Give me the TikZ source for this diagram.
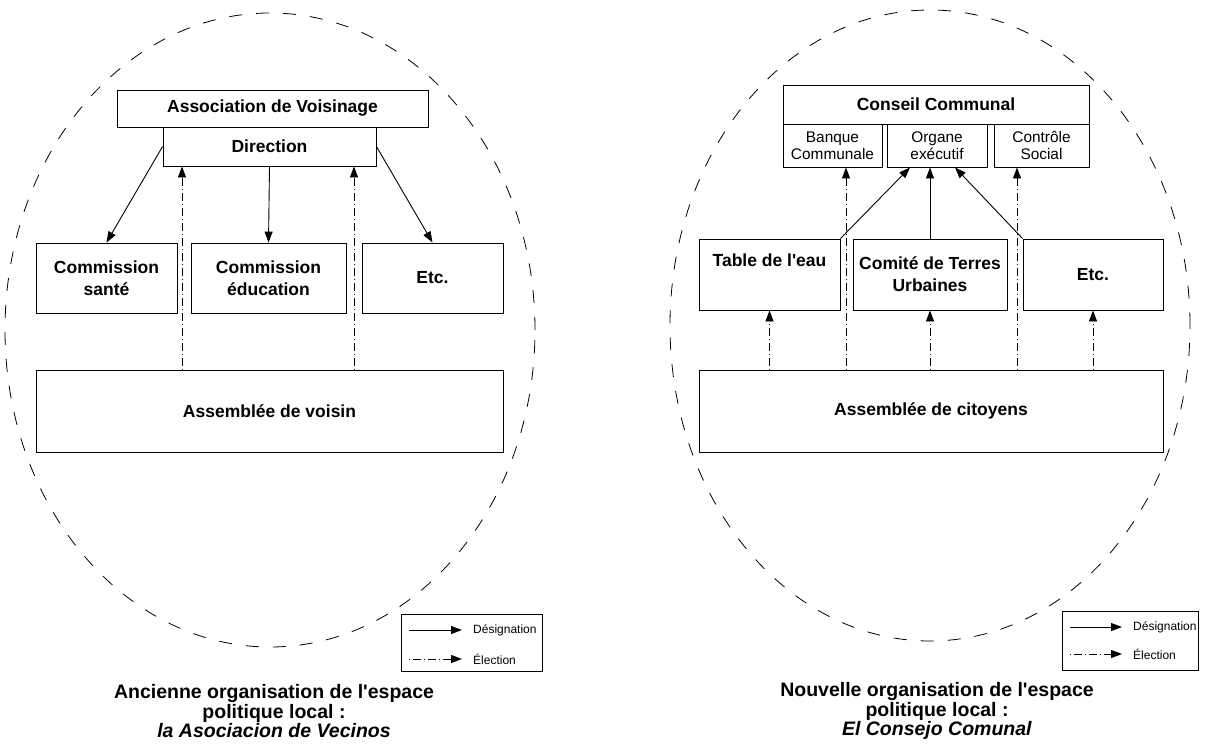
\documentclass[tikz,border=0pt]{standalone}
\usepackage{fontspec}
\setmainfont{Liberation Sans}[Ligatures=TeXOff]
\usetikzlibrary{arrows.meta, calc, positioning}
\tikzstyle{bigbox}     = [rectangle,draw=black,line width=0.9pt,inner sep=0pt,align=center,font=\fontsize{17.5}{22}\selectfont\bfseries]
\tikzstyle{subbox}     = [rectangle,draw=black,line width=0.9pt,inner sep=0pt,align=center,font=\fontsize{15.4}{17}\selectfont]
\tikzstyle{legendbox}  = [rectangle,draw=black,line width=0.9pt,inner sep=0pt]
\tikzstyle{legendtext} = [anchor=west,inner sep=0pt,font=\fontsize{12}{14}\selectfont]
\tikzstyle{caption}    = [align=center,inner sep=0pt,font=\fontsize{19.5}{17.5}\selectfont\bfseries]
\tikzstyle{border}     = [draw=black,line width=0.8pt,dash pattern=on 13pt off 14pt]
\tikzstyle{designe}    = [line width=0.9pt,-{Triangle[length=11pt,width=8pt]}]
\tikzstyle{elu}        = [line width=0.9pt,dash pattern=on 1pt off 3pt on 8pt off 3pt,-{Triangle[length=11pt,width=8pt]}]

\begin{document}
\begin{tikzpicture}[x=1pt,y=-1pt]
        \useasboundingbox (0,0) rectangle (1210,749);

        % left: ancienne organisation
        \draw[border] (270,330) ellipse [x radius=265pt, y radius=317pt];
        \node[bigbox,minimum width=311pt,minimum height=37pt] (assoc)     at (272.5,108.5) {Association de Voisinage};
        \node[bigbox,minimum width=213pt,minimum height=39pt] (direction) at (269.5,146.5) {Direction};
        \node[bigbox,minimum width=141pt,minimum height=70pt] (sante)     at (106.5,278)   {Commission\\santé};
        \node[bigbox,minimum width=155pt,minimum height=70pt] (educ)      at (268.5,278)   {Commission\\éducation};
        \node[bigbox,minimum width=141pt,minimum height=70pt] (etc a)     at (432.5,278)   {Etc.};
        \node[bigbox,minimum width=467pt,minimum height=82pt] (assem a)   at (269.5,411)   {Assemblée de voisin};

        \draw[designe] (direction.west)  -- (sante.north);
        \draw[designe] (direction.south) -- (educ.north);
        \draw[designe] (direction.east)  -- (etc a.north);
        \coordinate (vote 1) at (182,0);
        \coordinate (vote 2) at (354,0);
        \draw[elu] (vote 1 |- assem a.north) -- (vote 1 |- direction.south);
        \draw[elu] (vote 2 |- assem a.north) -- (vote 2 |- direction.south);

        \node[legendbox,minimum width=141pt,minimum height=57pt] (legend a) at (471.5,642.5) {};
        \coordinate (leg a1) at (409,630);
        \coordinate (leg a2) at (409,659);
        \node[legendtext] (leg a des) at (473,630) {Désignation};
        \node[legendtext] (leg a ele) at (473,659) {Élection};
        \draw[designe] (leg a1) -- ([xshift=-11pt]leg a des.west);
        \draw[elu]     (leg a2) -- ([xshift=-11pt]leg a ele.west);

        \node[caption] (title a) at (274,711) {Ancienne organisation de l'espace\\politique local :\\\textit{la Asociacion de Vecinos}};

        % right: nouvelle organisation
        \draw[border] (930,325.5) ellipse [x radius=260pt, y radius=315.5pt];
        \node[bigbox,minimum width=306pt,minimum height=39pt] (conseil)  at (936,104.5)   {Conseil Communal};
        \node[subbox,minimum width=99pt,minimum height=43pt]  (banque)   at (832.5,145.5) {Banque\\Communale};
        \node[subbox,minimum width=100pt,minimum height=43pt] (organe)   at (937,145.5)   {Organe\\exécutif};
        \node[subbox,minimum width=95pt,minimum height=43pt]  (controle) at (1041.5,145.5) {Contrôle\\Social};
        \node[bigbox,minimum width=141pt,minimum height=71pt] (table)    at (769.5,274.5) {Table de l'eau\\\strut};
        \node[bigbox,minimum width=154pt,minimum height=71pt] (comite)   at (930,274.5)   {Comité de Terres\\Urbaines};
        \node[bigbox,minimum width=140pt,minimum height=71pt] (etc b)    at (1093,274.5)  {Etc.};
        \node[bigbox,minimum width=464pt,minimum height=82pt] (assem b)  at (931,411)     {Assemblée de citoyens};

        \draw[designe] (table.north east) -- ($(organe.south)+(-27,0)$);
        \draw[designe] (comite.north)     -- (comite.north |- organe.south);
        \draw[designe] (etc b.north west) -- ($(organe.south)+(18,0)$);
        \coordinate (vote 3) at (846,0);
        \coordinate (vote 4) at (1017,0);
        \draw[elu] (vote 3 |- assem b.north) -- (vote 3 |- banque.south);
        \draw[elu] (vote 4 |- assem b.north) -- (vote 4 |- controle.south);
        \draw[elu] (table.south |- assem b.north)  -- (table.south);
        \draw[elu] (comite.south |- assem b.north) -- (comite.south);
        \draw[elu] (etc b.south |- assem b.north)  -- (etc b.south);

        \node[legendbox,minimum width=136pt,minimum height=59pt] (legend b) at (1130,640.5) {};
        \coordinate (leg b1) at (1070,627);
        \coordinate (leg b2) at (1070,654);
        \node[legendtext] (leg b des) at (1133,627) {Désignation};
        \node[legendtext] (leg b ele) at (1133,654) {Élection};
        \draw[designe] (leg b1) -- ([xshift=-11pt]leg b des.west);
        \draw[elu]     (leg b2) -- ([xshift=-11pt]leg b ele.west);

        \node[caption] (title b) at (937,711) {Nouvelle organisation de l'espace\\politique local :\\\textit{El Consejo Comunal}};
\end{tikzpicture}
\end{document}
